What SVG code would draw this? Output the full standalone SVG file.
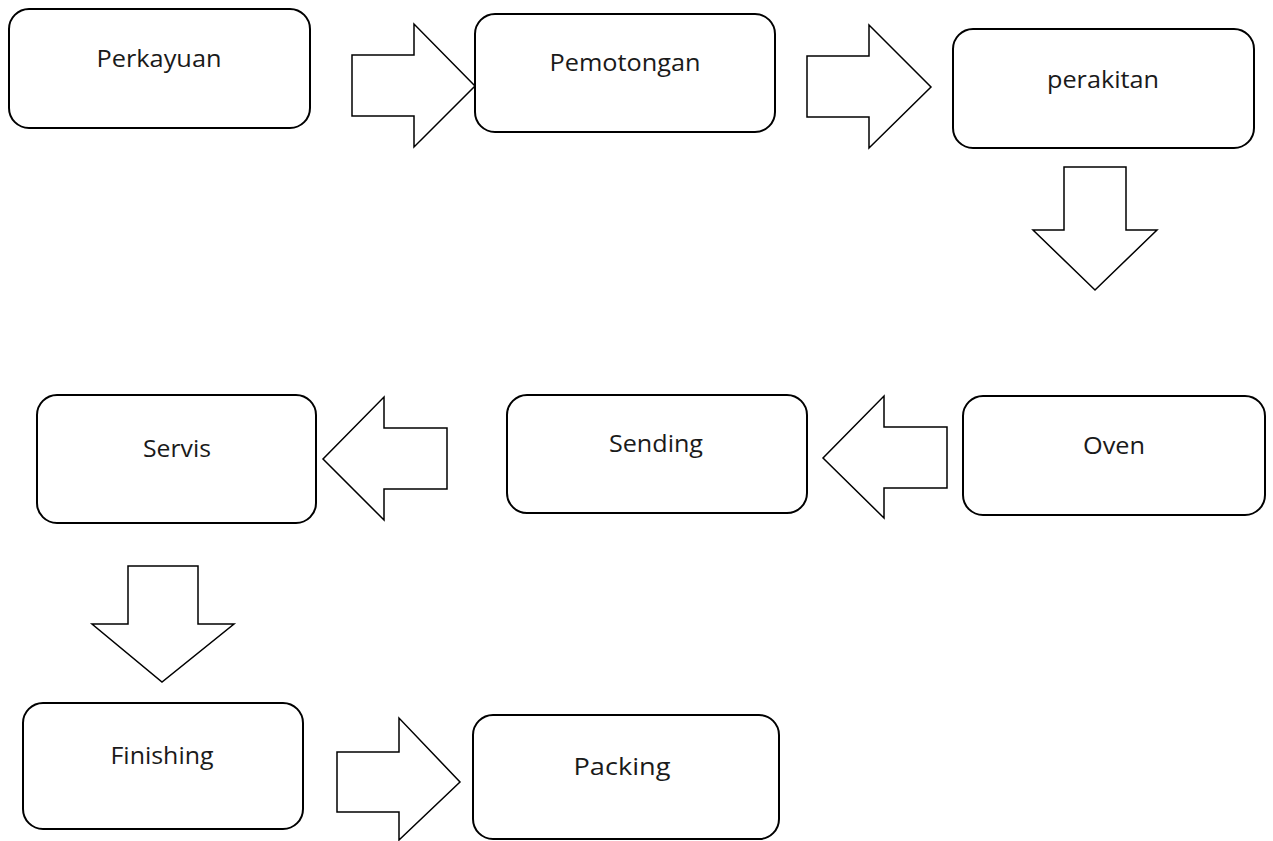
<svg xmlns="http://www.w3.org/2000/svg" width="1273" height="841" viewBox="0 0 1273 841">
<style>
.box{fill:#fff;stroke:#000;stroke-width:2}
.arr{fill:#fff;stroke:#000;stroke-width:1.5;stroke-linejoin:miter}
.lbl{font-family:"Open Sans","Noto Sans","DejaVu Sans",sans-serif;font-size:23px;fill:#1a1a1a;text-anchor:middle}
</style>
<rect width="1273" height="841" fill="#fff"/>
<g id="connectors">
<path class="arr" d="M352,55 H414 V24 L475,86 L414,147 V116 H352 Z"/>
<path class="arr" d="M807,56 H869 V25 L931,87 L869,148 V117 H807 Z"/>
<path class="arr" d="M1064,167 H1126 V230 H1157 L1095,290 L1033,230 H1064 Z"/>
<path class="arr" d="M947,427 H884 V396 L823,458 L884,518 V488 H947 Z"/>
<path class="arr" d="M447,428 H384 V397 L323,459 L384,520 V489 H447 Z"/>
<path class="arr" d="M128,566 H198 V624 H234 L162,682 L92,624 H128 Z"/>
<path class="arr" d="M337,752 H399 V718 L460,782 L399,840 V812 H337 Z"/>
</g>
<g id="perkayuan"><rect class="box" x="9" y="9" width="301" height="119" rx="20"/><text class="lbl" x="159" y="67" textLength="125" lengthAdjust="spacingAndGlyphs">Perkayuan</text></g>
<g id="pemotongan"><rect class="box" x="475" y="14" width="300" height="118" rx="20"/><text class="lbl" x="625" y="71" textLength="151" lengthAdjust="spacingAndGlyphs">Pemotongan</text></g>
<g id="perakitan"><rect class="box" x="953" y="29" width="301" height="119" rx="20"/><text class="lbl" x="1103" y="88" textLength="112" lengthAdjust="spacingAndGlyphs">perakitan</text></g>
<g id="oven"><rect class="box" x="963" y="396" width="302" height="119" rx="20"/><text class="lbl" x="1114" y="454" textLength="62" lengthAdjust="spacingAndGlyphs">Oven</text></g>
<g id="sending"><rect class="box" x="507" y="395" width="300" height="118" rx="20"/><text class="lbl" x="656" y="452" textLength="94" lengthAdjust="spacingAndGlyphs">Sending</text></g>
<g id="servis"><rect class="box" x="37" y="395" width="279" height="128" rx="20"/><text class="lbl" x="177" y="457" textLength="68" lengthAdjust="spacingAndGlyphs">Servis</text></g>
<g id="finishing"><rect class="box" x="23" y="703" width="280" height="126" rx="20"/><text class="lbl" x="162" y="764" textLength="103" lengthAdjust="spacingAndGlyphs">Finishing</text></g>
<g id="packing"><rect class="box" x="473" y="715" width="306" height="124" rx="20"/><text class="lbl" x="622" y="775" textLength="97" lengthAdjust="spacingAndGlyphs">Packing</text></g>
</svg>
